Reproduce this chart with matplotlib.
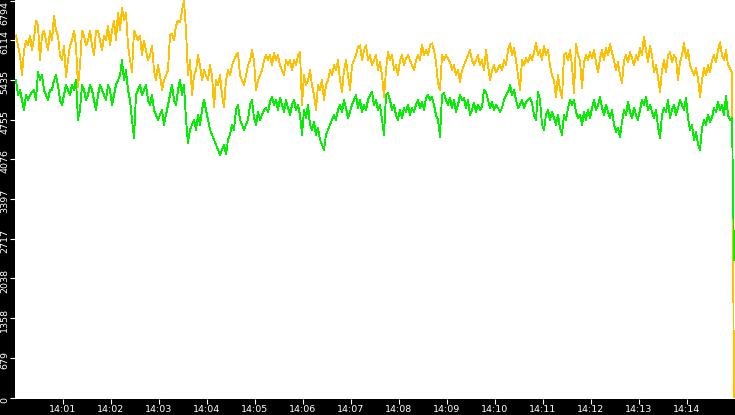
import numpy as np
import matplotlib
matplotlib.use('Agg')
import matplotlib.pyplot as plt
import matplotlib.dates as mdates
from matplotlib.transforms import ScaledTranslation

# y axis ticks (10 equal steps up to the max)
y_ticks = [0, 679, 1358, 2038, 2717, 3397, 4076, 4755, 5435, 6114, 6794]
y_max = 6806

# samples every 2.5 s starting 14:00:01.25
t_start = np.datetime64('2024-01-01T14:00:01.250')
t_step = np.timedelta64(2500, 'ms')
x_from = np.datetime64('2024-01-01T14:00:00')
x_to = np.datetime64('2024-01-01T14:15:00')

gold = [
    6199, 6029, 5859, 5519, 5944, 6114, 6029, 6199, 5944, 6148,
    6454, 6369, 5774, 6199, 6284, 6114, 5944, 6284, 6114, 6539,
    6284, 6199, 5859, 5774, 6029, 5485, 5774, 6029, 6114, 6284,
    6029, 5315, 5689, 6284, 6199, 6029, 6114, 6284, 6029, 5859,
    6284, 6284, 6114, 5944, 6199, 6114, 6369, 6029, 6284, 6454,
    6114, 6590, 6284, 6675, 6454, 6590, 6029, 5774, 5570, 6284,
    6199, 6114, 6199, 5859, 6114, 5944, 5774, 5859, 6029, 5604,
    5434, 5689, 5519, 5264, 5434, 5519, 5604, 6199, 6233, 6114,
    6369, 6454, 6420, 6624, 6794, 6284, 5519, 5774, 5179, 5519,
    5604, 5859, 5689, 5434, 5604, 5519, 5434, 5689, 5519, 4975,
    5434, 5349, 5519, 5179, 4975, 5434, 5604, 5519, 5689, 5774,
    5859, 5893, 5519, 5434, 5349, 5519, 5689,
    5774, 5944, 5774, 5264, 5434, 5519, 5604, 5774, 5859, 5774,
    5859, 5689, 5893, 5774, 5859, 5689, 5604, 5519, 5774, 5689,
    5774, 5604, 5774, 5689, 5859, 5910, 5009, 5519, 5349, 5434,
    5604, 5349, 5179, 4924, 5349, 5264, 5434, 5094, 5349, 5434,
    5604, 5519, 5689, 5604, 5774, 5434, 5230, 5604, 5774, 5519,
    5264, 5689, 5774, 5859, 6000, 6029, 5774, 5944, 6029, 5774,
    5859, 5689, 5774, 5859, 5604, 5740, 5519, 5145, 5604, 5910,
    5774, 5859, 5604, 5689, 5519, 5774, 5859, 5689, 5808, 5859,
    5774, 5689,
    5604, 5774, 5859, 5774, 6046, 5859, 5944, 5859, 6029, 6063,
    5944, 5740, 5383, 5264, 5859, 5774, 5859, 5808, 5740, 5604,
    5689, 5519, 5604, 5400, 5604, 5689, 5774, 5859, 5944, 5774,
    5689, 5774, 5859, 5689, 5774, 5604, 5944, 5689, 5434, 5604,
    5689, 5570, 5638,
    5689, 5604, 5774, 5689, 5944, 6063, 5859, 5978, 5774, 5519,
    5264, 5774, 5689, 5808, 5740, 5859, 5774, 5910, 6063, 5859,
    5944, 5774, 6029, 5859, 5944, 5689, 5519, 5434, 5145, 5519,
    5264, 5128, 5859, 5893, 5774, 5944, 5689, 5213, 6063, 5859,
    5774, 5298, 5740, 5859, 5774, 5910, 5808, 5944, 5740, 5570,
    5808, 5944, 5774, 5978, 5859, 6046, 5910, 5774, 5604, 5740,
    5519, 5383, 5774, 5859, 5740, 5910, 5808, 5689, 5859, 5774,
    5978, 5859, 6182, 5944, 5740, 6029, 5859, 5570, 5689, 5485,
    5230, 5604, 5774, 5570, 5859, 5910, 5740, 5859, 5808, 5434,
    5740, 5859, 6080, 5808, 5944, 5689, 5604, 5519, 5638, 5468,
    5145, 5434, 5638, 5519, 5689, 5570, 5774, 5859, 5740, 5944,
    6080, 5859, 5774, 5944, 5689, 5638, 5570,
    0,
]

green = [
    5434, 5179, 5264, 5094, 4924, 5179, 5094, 5179, 5230, 5264,
    5094, 5570, 5434, 5519, 5264, 5179, 5094, 5264, 5264, 5434,
    5519, 5349, 5094, 5009, 5179, 5349, 5264, 5179, 5349, 5264,
    5434, 4754, 4924, 5349, 5264, 5094, 5179, 5349, 5264, 5094,
    4924, 5179, 5349, 5264, 5179, 5094, 5349, 5264, 5009, 5179,
    5349, 5434, 5519, 5774, 5434, 5604, 5264, 5094, 4754, 4448,
    5179, 5264, 5349, 5179, 5264, 5349, 5094, 5009, 5179, 4924,
    4839, 4754, 4839, 4924, 4669, 4839, 5009, 5179, 5349, 5094,
    5009, 5264, 5434, 5179, 5349, 4754, 4363, 4584, 4669, 4754,
    4584, 4839, 4669, 4924, 5094, 4924, 4754, 4584, 4499, 4414,
    4329, 4244, 4159, 4244, 4329, 4159, 4414, 4499, 4669, 4584,
    4924, 5009, 4754, 4669, 4584, 4669, 4754,
    5009, 5094, 4788, 4669, 4890, 4754, 4839, 4924, 4958, 4890,
    5060, 5145, 5009, 5094, 4924, 5128, 5009, 4890, 5094, 4958,
    4839, 5009, 5094, 4924, 5009, 4839, 4499, 4924, 4788, 5009,
    4669, 4584, 4720, 4499, 4618, 4414, 4329, 4244, 4499, 4584,
    4669, 4754, 4839, 4754, 4924, 5009, 4890, 5094, 4958, 4788,
    4890, 5009, 5094, 5179, 4958, 5094, 4890, 5009, 4924, 5094,
    5179, 5230, 5009, 5094, 4924, 5009, 4754, 4499, 5179, 5213,
    5094, 4924, 5009, 4839, 4754, 4924, 4788, 4958, 4890, 5009,
    4839, 4958,
    4890, 5009, 5094, 4958, 5060, 4924, 5128, 5179, 5094, 5145,
    5009, 4839, 4754, 4465, 5179, 5213, 5094, 5009, 5128, 4958,
    5094, 4890, 5009, 5179, 5094, 5128, 4958, 5094, 4839, 4924,
    5043, 4890, 5009, 4924, 4975, 5264, 5230, 5094, 4958, 5060,
    4924, 5009, 4958,
    4890, 4958, 5094, 5179, 5230, 5349, 5179, 5264, 5094, 4958,
    5009, 5094, 4958, 5060, 5094, 5128, 5043, 4839, 4754, 5230,
    5094, 4669, 4584, 4839, 4924, 4754, 4890, 4788, 4669, 4839,
    4618, 4499, 4839, 4754, 4958, 5094, 5009, 5094, 4890, 4788,
    4839, 4669, 4890, 4754, 4924, 4788, 4958, 5094, 4924, 5009,
    5145, 4958, 4839, 5009, 4890, 4788, 4924, 4669, 4550, 4618,
    4465, 4720, 4924, 4839, 5060, 4890, 4788, 4958, 4839, 4754,
    4924, 5094, 5009, 5145, 4924, 5009, 4890, 4788, 4924, 4635,
    4448, 4839, 4958, 4890, 5094, 4788, 4924, 5009, 4839, 4958,
    5094, 5009, 4924, 5128, 4788, 4584, 4669, 4414, 4550, 4329,
    4244, 4618, 4754, 4669, 4839, 4720, 4788, 4958, 4890, 5060,
    4924, 5009, 4839, 5162, 4839, 4754, 4788,
    2350,
]

t_gold = t_start + np.arange(len(gold)) * t_step
t_green = t_start + np.arange(len(green)) * t_step

fig = plt.figure(figsize=(7.35, 4.15), dpi=100, facecolor='black')
ax = fig.add_axes([15 / 735, 16 / 415, 720 / 735, 399 / 415])
ax.set_facecolor('white')

ax.plot(t_gold, gold, color='#ffc000', lw=0.6, antialiased=False)
ax.plot(t_green, green, color='#00f000', lw=0.6, antialiased=False)

ax.set_xlim(x_from, x_to)
ax.set_ylim(-25, y_max)

ax.xaxis.set_major_locator(mdates.MinuteLocator(byminute=range(1, 15)))
ax.xaxis.set_major_formatter(mdates.DateFormatter('%H:%M'))
ax.set_yticks(y_ticks)
ax.set_yticklabels([str(v) for v in y_ticks], rotation=90, va='center')

for s in ax.spines.values():
    s.set_visible(False)
ax.tick_params(colors='white', labelsize=6.8, length=3.6, width=0.8, pad=1)
ax.tick_params(axis='y', pad=0.5)

# push y labels a bit down, top one inside the figure
for lab, v in zip(ax.get_yticklabels(), y_ticks):
    dy = -12 if v == y_ticks[-1] else -2
    lab.set_transform(lab.get_transform() + ScaledTranslation(0, dy / 100, fig.dpi_scale_trans))

fig.savefig('out.png', dpi=100, facecolor='black')
